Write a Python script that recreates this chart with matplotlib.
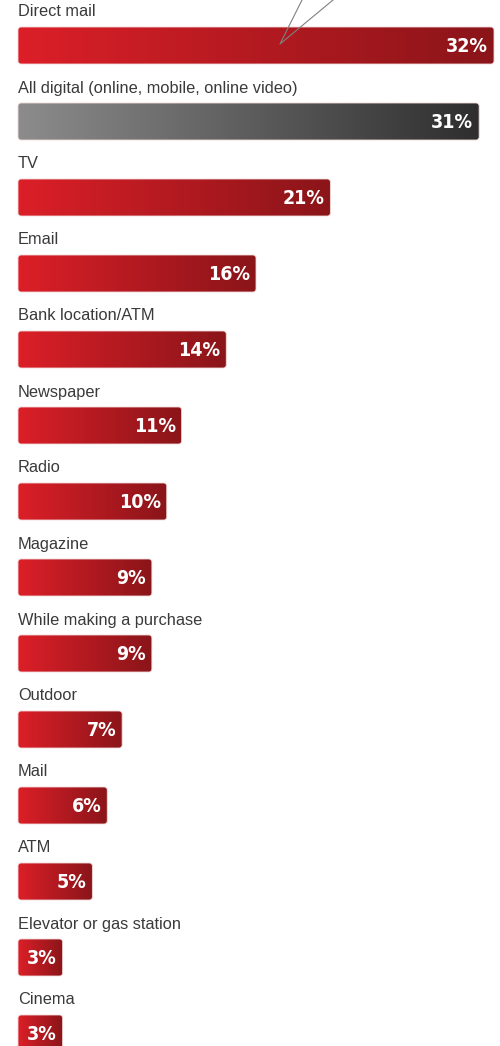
import matplotlib.pyplot as plt
import numpy as np
from matplotlib.patches import FancyBboxPatch
from matplotlib.colors import LinearSegmentedColormap

categories = ['Direct mail', 'All digital (online, mobile, online video)', 'TV', 'Email',
              'Bank location/ATM', 'Newspaper', 'Radio', 'Magazine',
              'While making a purchase', 'Outdoor', 'Mail', 'ATM',
              'Elevator or gas station', 'Cinema']
values = [32, 31, 21, 16, 14, 11, 10, 9, 9, 7, 6, 5, 3, 3]
highlight = 'All digital (online, mobile, online video)'

plt.rcParams['font.family'] = ['Liberation Sans', 'DejaVu Sans']

red_cmap = LinearSegmentedColormap.from_list('red', ['#dc1f28', '#8a1519'])
gray_cmap = LinearSegmentedColormap.from_list('gray', ['#8c8c8c', '#2e2e2e'])

fig = plt.figure(figsize=(5, 10.46), dpi=100)
ax = fig.add_axes([0, 0, 1, 1])
px = 14.875  # pixels per percentage point
ax.set_xlim(-18 / px, (500 - 18) / px)
ax.set_ylim(1046, 0)
ax.axis('off')

row_gap = 76
bar_h = 37
grad = np.linspace(0, 1, 256).reshape(1, -1)

for i, (cat, val) in enumerate(zip(categories, values)):
    top = 27 + row_gap * i
    cmap = gray_cmap if cat == highlight else red_cmap
    box = FancyBboxPatch((0, top), val, bar_h,
                         boxstyle='round,pad=0,rounding_size=%.3f' % (3 / px),
                         mutation_aspect=px, facecolor='none',
                         edgecolor='#f0d8d8', linewidth=0.6, zorder=3)
    ax.add_patch(box)
    im = ax.imshow(grad, cmap=cmap, aspect='auto', extent=(0, val, top + bar_h, top),
                   zorder=2, interpolation='bilinear')
    im.set_clip_path(box)
    ax.text(val - 6 / px, top + bar_h / 2 + 1, f'{val}%', color='white', fontsize=14,
            ha='right', va='center', zorder=4, family=['DejaVu Sans'],
            fontstretch='condensed', fontweight='bold')
    ax.text(0, top - 15, cat, color='#3a3a3a', fontsize=11.8, ha='left', va='center')

# speech bubble pointer at the top
ax.plot([(302 - 18) / px, (280 - 18) / px, (333 - 18) / px], [0, 44, 0],
        color='#808080', linewidth=0.8, zorder=5)
ax.set_ylim(1046, 0)

fig.savefig('out.png', dpi=100)
